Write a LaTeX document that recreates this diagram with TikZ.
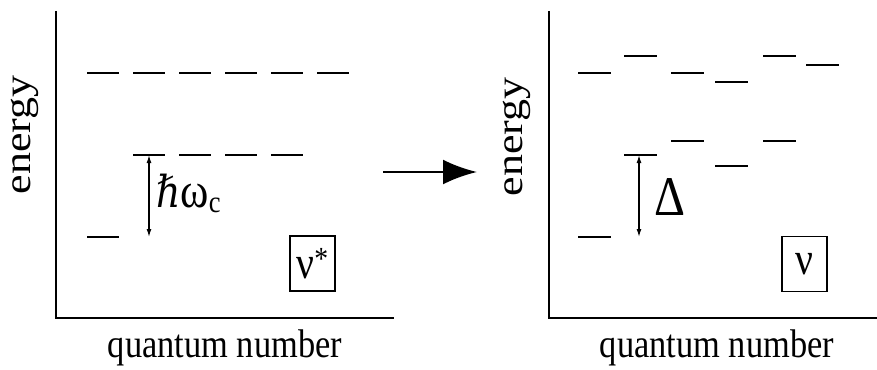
\documentclass[tikz,border=0pt]{standalone}
\usepackage{fontspec}
\setmainfont{Liberation Serif}
\newfontfamily\planckfont{DejaVu Serif}
\usetikzlibrary{arrows.meta}
\newcommand{\narrowtxt}[1]{\scalebox{0.86}[1]{#1}}
\newcommand{\narrowrot}[1]{\scalebox{1}[0.86]{#1}}

\begin{document}
\begin{tikzpicture}[
  x=1pt, y=-1pt,
  axis/.style={line width=1.8pt},
  level/.style={line width=2.4pt},
  gap/.style={{Latex[length=8pt,width=5pt]}-{Latex[length=8pt,width=5pt]}, line width=1.3pt},
  flow/.style={-{Latex[length=34pt,width=25pt]}, line width=2.6pt},
  qlabel/.style={font=\fontsize{40}{44}\selectfont, inner sep=0pt},
  elabel/.style={font=\fontsize{44}{48}\selectfont, inner sep=0pt, rotate=90},
  gaplabel/.style={inner sep=0pt},
  statebox/.style={draw, line width=1.5pt, minimum width=45pt, minimum height=55pt, inner sep=0pt, font=\fontsize{46}{50}\selectfont}
]
\useasboundingbox (0,0) rectangle (877,369);

% left panel: Landau levels
\coordinate (ytopL) at (56,11);
\coordinate (oL) at (56,318);
\coordinate (xendL) at (394,318);
\draw[axis] (ytopL) -- (oL) -- (xendL);
\node[elabel] (energyL) at (25,135) {\narrowrot{energy}};
\node[qlabel, anchor=base] (quantL) at (225,357) {\narrowtxt{quantum number}};

\foreach \i in {0,...,5}
  \draw[level] (87+46*\i,73) -- ++(32,0);
\foreach \i in {1,...,4}
  \draw[level] (87+46*\i,155) -- ++(32,0);
\draw[level] (87,237) -- ++(32,0);

\coordinate (hwtop) at (149,155);
\coordinate (hwbot) at (149,237);
\draw[gap] (hwtop) -- (hwbot);
\node[gaplabel, anchor=base west, font=\fontsize{44}{48}\selectfont] (hwc) at (156,207)
  {\narrowtxt{{\planckfont ℏ}{\fontsize{50}{54}\selectfont ω}\textsubscript{c}}};

\node[statebox] (nustar) at (312.5,263.5) {\narrowtxt{ν\textsuperscript{*}}};

% transition arrow
\coordinate (from) at (383,172);
\coordinate (to) at (477,172);
\draw[flow] (from) -- (to);

% right panel: split levels
\coordinate (ytopR) at (549,11);
\coordinate (oR) at (549,318);
\coordinate (xendR) at (877,318);
\draw[axis] (ytopR) -- (oR) -- (xendR);
\node[elabel] (energyR) at (517,137) {\narrowrot{energy}};
\node[qlabel, anchor=base] (quantR) at (717,357) {\narrowtxt{quantum number}};

\foreach \x/\y in {578/73, 624/56, 671/73, 715/82, 763/56, 806/65,
                   671/141, 763/141, 624/155, 715/166, 578/237}
  \draw[level] (\x,\y) -- ++(33,0);

\coordinate (dtop) at (639,155);
\coordinate (dbot) at (639,237);
\draw[gap] (dtop) -- (dbot);
\node[gaplabel, anchor=base west, font=\fontsize{56}{60}\selectfont] (delta) at (654,215) {\narrowtxt{Δ}};

\node[statebox] (nu) at (804.5,264) {\narrowtxt{ν}};
\end{tikzpicture}
\end{document}
